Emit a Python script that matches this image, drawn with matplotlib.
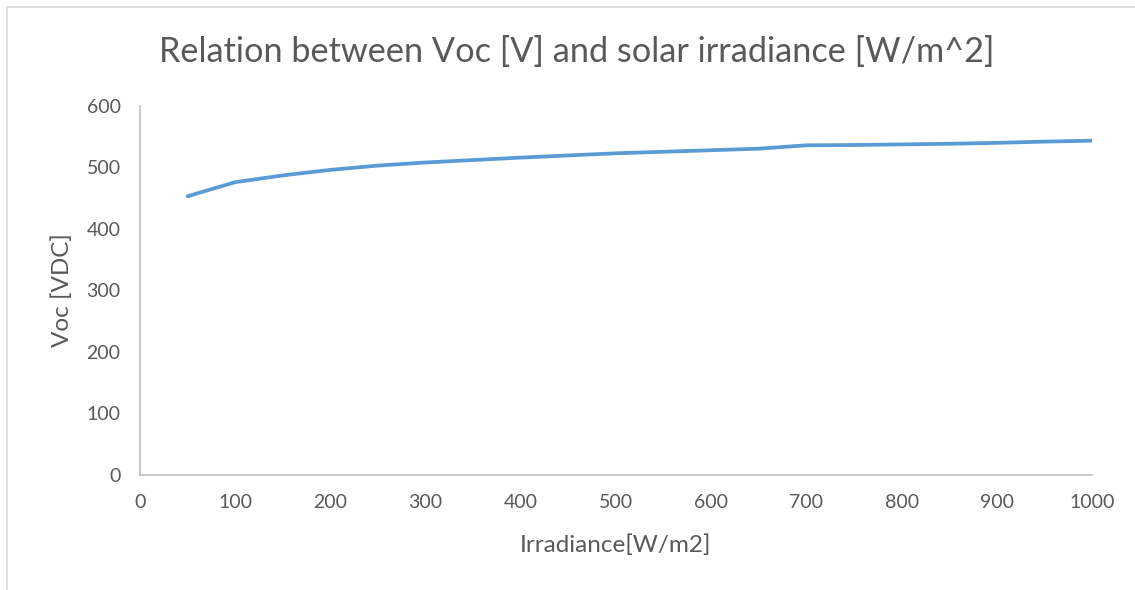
import matplotlib
matplotlib.use("Agg")
import matplotlib.pyplot as plt
from matplotlib.lines import Line2D

plt.rcParams['font.family'] = ['Lato', 'DejaVu Sans']

irradiance = [50, 100, 150, 200, 250, 300, 350, 400, 450, 500,
              550, 600, 650, 700, 750, 800, 850, 900, 950, 1000]
voc = [453, 476, 487, 496, 503, 508, 512, 516, 519.5, 523,
       525.5, 528, 530.5, 536, 536.5, 537.5, 538.5, 540, 542, 543.5]

x_ticks = list(range(0, 1001, 100))
y_ticks = list(range(0, 601, 100))

title = "Relation between Voc [V] and solar irradiance [W/m^2]"
x_label = "Irradiance[W/m2]"
y_label = "Voc [VDC]"

text_color = "#595959"
axis_color = "#BFBFBF"
line_color = "#5B9BD5"

W, H = 1135, 590
fig = plt.figure(figsize=(W / 100, H / 100), dpi=100)
fig.patch.set_facecolor("white")

# chart frame (left and top edges)
fig.add_artist(Line2D([7 / W, 7 / W], [0, 1 - 7 / H], transform=fig.transFigure,
                      color="#D9D9D9", lw=1.2))
fig.add_artist(Line2D([7 / W, 1], [1 - 7 / H, 1 - 7 / H], transform=fig.transFigure,
                      color="#D9D9D9", lw=1.2))

left, right = 140 / W, 1092 / W
bottom, top = 1 - 474.5 / H, 1 - 106 / H
ax = fig.add_axes([left, bottom, right - left, top - bottom])

ax.plot(irradiance, voc, color=line_color, lw=2.7, solid_capstyle="round",
        solid_joinstyle="round")

ax.set_xlim(0, 1000)
ax.set_ylim(0, 600)
ax.set_xticks(x_ticks)
ax.set_yticks(y_ticks)

for side in ("top", "right"):
    ax.spines[side].set_visible(False)
for side in ("left", "bottom"):
    ax.spines[side].set_color(axis_color)
    ax.spines[side].set_linewidth(1.2)

ax.tick_params(axis="both", length=0, labelsize=14, labelcolor=text_color)
ax.tick_params(axis="x", pad=14)
ax.tick_params(axis="y", pad=14)

ax.set_xlabel(x_label, fontsize=17.5, color=text_color, labelpad=17)
ax.set_ylabel(y_label, fontsize=17.5, color=text_color, labelpad=10)

fig.text(577 / W, 1 - 52 / H, title, fontsize=24.7, color=text_color,
         ha="center", va="center")

fig.savefig("out.png", dpi=100, facecolor="white")
